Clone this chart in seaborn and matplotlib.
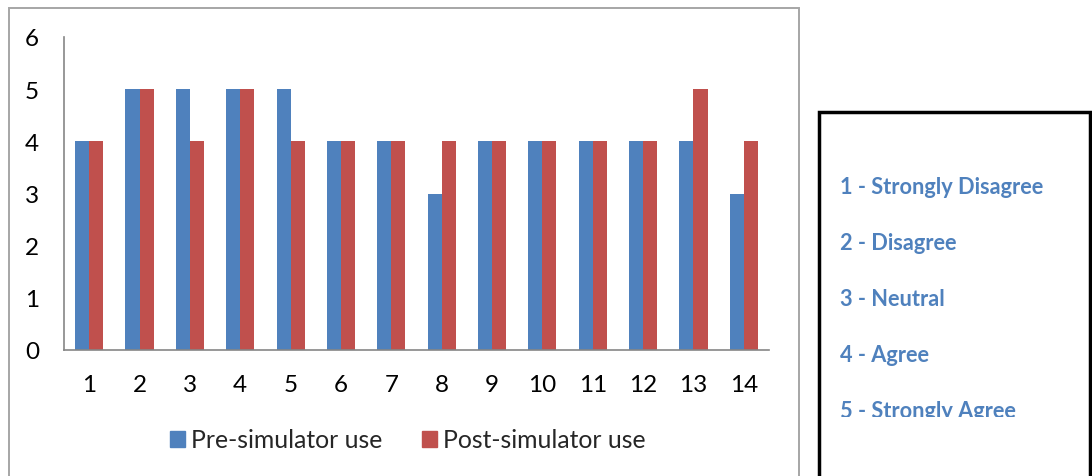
import numpy as np
import pandas as pd
import matplotlib
matplotlib.use("Agg")
import matplotlib.pyplot as plt
from matplotlib.patches import Rectangle
from matplotlib.transforms import Bbox, TransformedBbox
import seaborn as sns

# Data
questions = [str(i) for i in range(1, 15)]
pre_values = [4, 5, 5, 5, 5, 4, 4, 3, 4, 4, 4, 4, 4, 3]
post_values = [4, 5, 4, 5, 4, 4, 4, 4, 4, 4, 4, 4, 5, 4]
series_names = ["Pre-simulator use", "Post-simulator use"]
scale_labels = ["1 - Strongly Disagree", "2 - Disagree", "3 - Neutral",
                "4 - Agree", "5 - Strongly Agree"]

colors = ["#4F81BD", "#C0504D"]

df = pd.DataFrame({
    "question": questions * 2,
    "score": pre_values + post_values,
    "series": [series_names[0]] * len(questions) + [series_names[1]] * len(questions),
})

sns.set_theme(style="white")
plt.rcParams["font.family"] = ["Lato", "DejaVu Sans"]

W, H = 1092, 477
fig = plt.figure(figsize=(W / 100, H / 100), dpi=100)

def fx(px):
    return px / W

def fy(py):
    return 1 - py / H

# outer chart frame (runs off the bottom)
fig.patches.append(Rectangle((fx(8.5), fy(520)), fx(799) - fx(8.5), fy(8.5) - fy(520),
                             transform=fig.transFigure, fill=False,
                             edgecolor="#A6A6A6", linewidth=1.4))

ax = fig.add_axes([fx(64), fy(351), fx(769) - fx(64), fy(38) - fy(351)])
sns.barplot(data=df, x="question", y="score", hue="series", palette=colors,
            width=0.56, gap=0, saturation=1, linewidth=0, ax=ax, legend=False)

ax.set_ylim(0, 6)
ax.set_xlim(-0.5, len(questions) - 0.5)
ax.set_yticks(range(0, 7))
ax.set_xlabel("")
ax.set_ylabel("")
for s in ["top", "right"]:
    ax.spines[s].set_visible(False)
for s in ["left", "bottom"]:
    ax.spines[s].set_color("#868686")
    ax.spines[s].set_linewidth(1.2)
ax.tick_params(axis="y", length=0, pad=18, labelsize=17.5, labelcolor="black")
ax.tick_params(axis="x", length=0, pad=17, labelsize=17.5, labelcolor="black")

handles = [Rectangle((0, 0), 1, 1, color=c) for c in colors]
fig.legend(handles, series_names, loc="center", bbox_to_anchor=(fx(408), fy(441)),
           ncol=2, frameon=False, fontsize=17.8, handlelength=0.6, handleheight=0.6,
           handletextpad=0.25, columnspacing=1.6)

# right-hand scale box (runs off the bottom)
fig.patches.append(Rectangle((fx(818.5), fy(520)), fx(1089.5) - fx(818.5), fy(112.5) - fy(520),
                             transform=fig.transFigure, fill=False,
                             edgecolor="black", linewidth=2.5))

clip = TransformedBbox(Bbox([[fx(818), fy(418)], [fx(1090), fy(112)]]), fig.transFigure)
ys = [188, 244, 300, 356, 412]
for label, y in zip(scale_labels, ys):
    t = fig.text(fx(840), fy(y), label, ha="left", va="center", fontsize=15.7,
                 fontweight="bold", color="#4F81BD")
    t.set_clip_box(clip)
    t.set_clip_on(True)

fig.savefig("out.png", dpi=100)
